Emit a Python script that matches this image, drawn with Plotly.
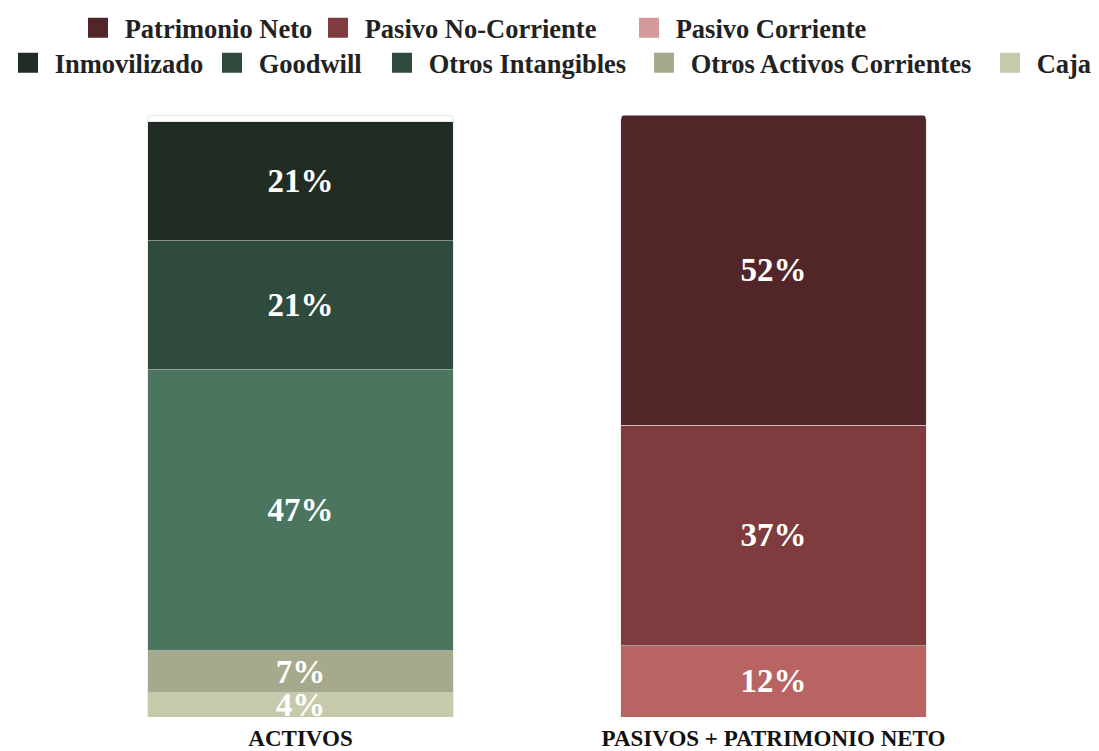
import plotly.graph_objects as go

categories = ["ACTIVOS", "PASIVOS + PATRIMONIO NETO"]

# Activos (bottom -> top), % of balance total
asset_names = ["Caja", "Otros Activos Corrientes", "Otros Intangibles", "Goodwill", "Inmovilizado"]
asset_values = [4.0, 7.0, 46.7, 21.4, 19.8]
asset_labels = ["4%", "7%", "47%", "21%", "21%"]
asset_unlabeled = 1.1  # small remainder at the top of the assets bar

# Pasivos + Patrimonio Neto (bottom -> top)
liab_names = ["Pasivo Corriente", "Pasivo No-Corriente", "Patrimonio Neto"]
liab_values = [11.8, 36.7, 51.5]
liab_labels = ["12%", "37%", "52%"]

asset_colors = ["#c6caaa", "#a6a98b", "#4a765f", "#2f4b3d", "#212c25"]
liab_colors = ["#b86462", "#7f3b3d", "#522628"]

# legend entries: (name, colour, row, symbol left edge in page px)
legend_items = [
    ("Patrimonio Neto", "#522628", 0, 88),
    ("Pasivo No-Corriente", "#7f3b3d", 0, 328),
    ("Pasivo Corriente", "#d49a9b", 0, 639),
    ("Inmovilizado", "#212c25", 1, 8),
    ("Goodwill", "#2f4b3d", 1, 222),
    ("Otros Intangibles", "#2f4b3d", 1, 392),
    ("Otros Activos Corrientes", "#a6a98b", 1, 654),
    ("Caja", "#c6caaa", 1, 1000),
]
row_centers = [28, 63]

SERIF = "Liberation Serif"
W, H = 1091, 743          # page body has an 8px margin
edge = dict(color="rgba(225,225,225,0.55)", width=1)
bar_font = dict(family=SERIF, size=33, color="white", weight="bold")

fig = go.Figure()

for name, val, lab, col in zip(asset_names, asset_values, asset_labels, asset_colors):
    fig.add_trace(go.Bar(
        x=[categories[0]], y=[val], name=name, text=[lab],
        marker=dict(color=col, line=edge), showlegend=False,
        textposition="inside", insidetextanchor="middle", constraintext="none",
        textfont=bar_font, hoverinfo="name+y"))

fig.add_trace(go.Bar(
    x=[categories[0]], y=[asset_unlabeled], name="", text=[""],
    marker=dict(color="white", line=dict(color="#e6e6e6", width=1)),
    showlegend=False, hoverinfo="skip"))

for name, val, lab, col in zip(liab_names, liab_values, liab_labels, liab_colors):
    fig.add_trace(go.Bar(
        x=[categories[1]], y=[val], name=name, text=[lab],
        marker=dict(color=col, line=edge), showlegend=False,
        textposition="inside", insidetextanchor="middle", constraintext="none",
        textfont=bar_font, hoverinfo="name+y"))

legend_font = dict(family=SERIF, size=26.5, color="#222222", weight="bold")
legend_layouts = {}
for i, (name, col, row, sx) in enumerate(legend_items):
    key = "legend" if i == 0 else f"legend{i + 1}"
    fig.add_trace(go.Scatter(
        x=[None], y=[None], mode="markers", name="\u00a0" + name,
        marker=dict(symbol="square", size=16, color=col, line=dict(color=col, width=4)),
        legend=key, hoverinfo="skip"))
    legend_layouts[key] = dict(
        orientation="h", xref="container", yref="container",
        x=(sx - 8 - 10) / W, xanchor="left",
        y=1 - (row_centers[row] - 8) / H, yanchor="middle",
        font=legend_font, bgcolor="rgba(0,0,0,0)", borderwidth=0)

fig.update_layout(
    width=W, height=H,
    barmode="stack", bargap=0.355, barcornerradius=4,
    paper_bgcolor="white", plot_bgcolor="white",
    margin=dict(l=56, r=89, t=107, b=34, autoexpand=False),
    showlegend=True,
    xaxis=dict(categoryorder="array", categoryarray=categories, showgrid=False,
               zeroline=False, showline=False, ticks="", ticklabelstandoff=5,
               automargin=False,
               tickfont=dict(family=SERIF, size=23, color="#111111", weight="bold")),
    yaxis=dict(range=[0, 100], showgrid=False, zeroline=False, showline=False,
               showticklabels=False, ticks="", automargin=False),
    **legend_layouts,
)

fig.write_html("out.html")
